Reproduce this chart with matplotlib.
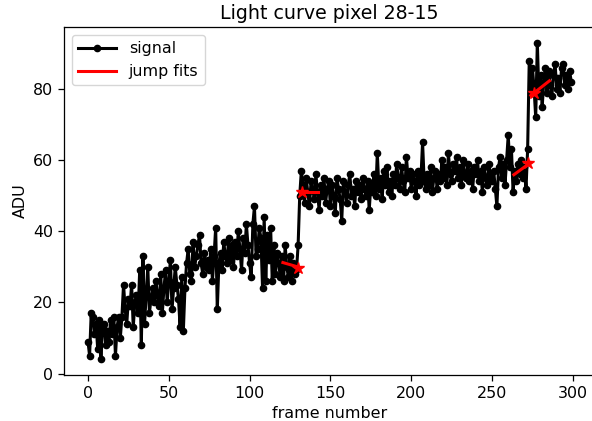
import numpy as np
import matplotlib
matplotlib.use('Agg')
import matplotlib.pyplot as plt

# signal before first jump (frames 0-129)
seg_a = [9, 5, 17, 16, 11, 14, 7, 15, 4, 13,
         14, 8, 12, 9, 15, 11, 16, 5, 13, 16,
         10, 16, 25, 18, 14, 21, 19, 25, 13, 20,
         22, 17, 29, 8, 33, 14, 22, 30, 17, 21,
         24, 20, 26, 22, 19, 28, 17, 24, 29, 20,
         26, 32, 18, 24, 30, 25, 21, 13, 27, 12,
         24, 31, 35, 28, 26, 37, 30, 33, 36, 39,
         31, 28, 34, 30, 32, 29, 35, 26, 33, 41,
         18, 31, 34, 29, 37, 33, 31, 38, 32, 36,
         30, 37, 33, 40, 35, 29, 38, 34, 42, 36,
         31, 27, 42, 47, 33, 35, 41, 38, 24, 44,
         26, 39, 32, 41, 26, 36, 28, 34, 31, 27,
         33, 26, 36, 30, 27, 33, 26, 31, 28, 29]
# between the jumps (frames 130-272)
seg_b = [36,
         50, 57, 53, 48, 55, 51, 47, 54, 52,
         49, 56, 51, 46, 53, 50, 55, 48, 52, 54,
         47, 53, 50, 45, 55, 52, 49, 43, 54, 51,
         48, 53, 56, 50, 52, 47, 54, 51, 53, 49,
         55, 52, 50, 54, 46, 53, 51, 56, 50, 62,
         52, 55, 49, 57, 53, 58, 51, 54, 50, 56,
         53, 59, 55, 52, 58, 54, 51, 61, 55, 57,
         52, 56, 54, 50, 57, 53, 55, 65, 54, 52,
         56, 53, 58, 51, 55, 57, 52, 56, 54, 60,
         55, 58, 53, 62, 56, 54, 59, 57, 61, 55,
         58, 53, 60, 56, 55, 59, 54, 57, 52, 58,
         56, 60, 54, 57, 51, 58, 55, 53, 59, 56,
         54, 57, 52, 47, 58, 61, 55, 59, 53, 60,
         67, 58, 63, 51, 57, 54, 59, 56, 60, 55,
         58, 52, 63]
# after second jump (frames 273-299)
seg_c = [88, 79, 86, 80, 72, 93, 78, 84, 75, 82,
         86, 79, 85, 81, 78, 84, 87, 80, 83, 79,
         86, 87, 81, 84, 80, 85, 82]

signal = np.array(seg_a + seg_b + seg_c)
frames = np.arange(len(signal))

fit_frames = [(120.6, 131.1), (131, 142), (263.5, 273.8), (274, 285.5)]
fit_values = [(31.2, 29.8), (51.1, 51.1), (55.9, 59.3), (78.2, 82.3)]
star_frames = [129.7, 132.4, 272.5, 275.8]
star_values = [29.8, 51.1, 59.3, 78.8]

s = 1.14  # overall scale of the reference rendering
plt.rcParams.update({
    'font.size': 10 * s,
    'axes.titlesize': 12 * s,
    'axes.linewidth': 0.8 * s,
    'xtick.major.size': 3.5 * s,
    'ytick.major.size': 3.5 * s,
    'xtick.major.width': 0.8 * s,
    'ytick.major.width': 0.8 * s,
    'legend.handlelength': 2.4,
})

fig = plt.figure(figsize=(5.92, 4.21), dpi=100)
ax = fig.add_axes([0.1078, 0.109, 0.898, 0.827])

ax.plot(frames, signal, 'k-', marker='o', markersize=4.5, linewidth=2.2, label='signal')
for i, (fx, fy) in enumerate(zip(fit_frames, fit_values)):
    ax.plot(fx, fy, 'r-', linewidth=2.2, label='jump fits' if i == 0 else None)
ax.plot(star_frames, star_values, 'r*', markersize=9, linestyle='none')

# the reference is cut off on the right, so its right spine is not seen
ax.spines['right'].set_visible(False)

ax.set_title('Light curve pixel 28-15')
ax.set_xlabel('frame number')
ax.set_ylabel('ADU')
ax.legend(loc='upper left')

fig.savefig('out.png', dpi=100)
